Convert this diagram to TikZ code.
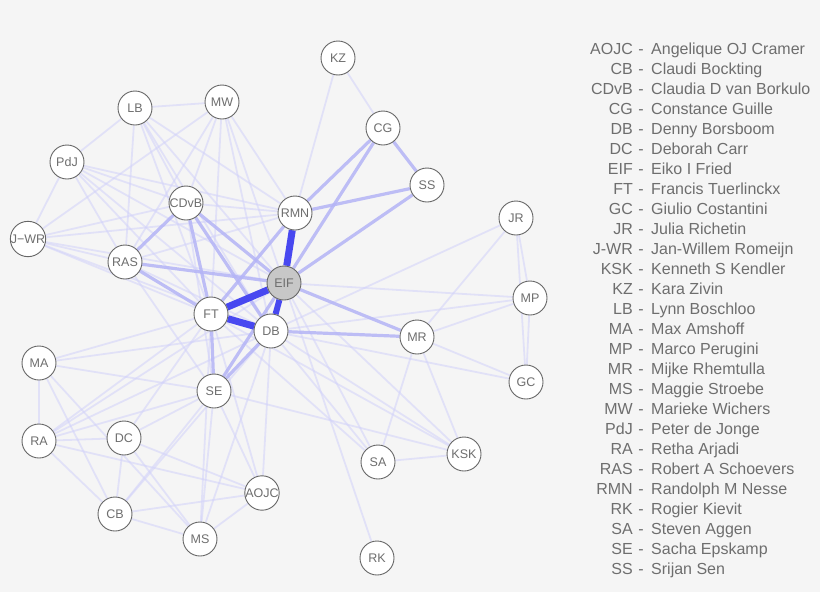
\documentclass[tikz,border=0pt]{standalone}
\usepackage{fontspec}
\setmainfont{Liberation Sans}
\usetikzlibrary{backgrounds}

\definecolor{bgcol}{RGB}{245,245,245}
\definecolor{txtcol}{RGB}{110,110,110}
\definecolor{weakcol}{RGB}{210,210,250}
\definecolor{midcol}{RGB}{180,180,246}
\definecolor{strongcol}{RGB}{72,72,240}

\tikzset{
  person/.style={circle, draw=black!60, line width=0.9pt, fill=white, minimum size=34pt,
    inner sep=0pt, text=txtcol, font=\fontsize{12.5}{13}\selectfont},
  hub/.style={person, fill=black!22},
  weak/.style={draw=weakcol, line width=1.8pt, opacity=0.55},
  mid/.style={draw=midcol, line width=3.2pt, opacity=0.85},
  strong/.style={draw=strongcol, line width=7pt},
  legend/.style={text=txtcol, font=\fontsize{16}{17}\selectfont, inner sep=0pt}
}

\begin{document}
\begin{tikzpicture}[x=1pt, y=-1pt]
  \useasboundingbox (0,0) rectangle (820,592);

  % co-authors
  \foreach \n/\x/\y/\t in {KZ/338/58/KZ, LB/135/108/LB, MW/222/102/MW, CG/383/128/CG,
      PdJ/67/162/PdJ, SS/427/185/SS, CDvB/186/203/CDvB, RMN/295/213/RMN, JR/516/218/JR,
      JWR/28/239/J−WR, RAS/125/262/RAS, MP/530/298/MP, FT/211/314/FT, DB/271/331/DB,
      MR/417/337/MR, MA/39/363/MA, SE/214/391/SE, GC/526/382/GC, RA/39/441/RA,
      DC/124/438/DC, SA/378/462/SA, KSK/464/454/KSK, AOJC/262/493/AOJC, CB/115/514/CB,
      MS/200/539/MS, RK/377/558/RK}
    \node[person] (\n) at (\x,\y) {\t};
  \node[hub] (EIF) at (284,283) {EIF};

  \begin{scope}[on background layer]
    \fill[bgcol] (0,0) rectangle (820,592);

    % weak ties
    \foreach \a/\b in {LB/MW, LB/PdJ, LB/RAS, LB/CDvB, LB/FT, LB/EIF, LB/RMN, LB/DB,
        MW/JWR, MW/CDvB, MW/RAS, MW/FT, MW/EIF, MW/RMN, MW/DB,
        PdJ/JWR, PdJ/CDvB, PdJ/RMN, PdJ/RAS, PdJ/FT, PdJ/EIF, PdJ/DB,
        JWR/CDvB, JWR/RMN, JWR/RAS, JWR/EIF, JWR/FT, JWR/DB,
        RAS/DB, RAS/SE, RAS/RMN, CDvB/RMN, CDvB/SE,
        KZ/RMN, KZ/CG, JR/MR, JR/MP, JR/GC, JR/DB, MP/GC, MP/EIF, MP/DB, MP/MR,
        GC/MR, GC/DB, MR/SA, MR/KSK, SA/KSK, KSK/EIF, KSK/DB, KSK/FT, KSK/SE,
        SA/EIF, SA/DB, SA/FT, RK/EIF,
        MA/RA, MA/FT, MA/SE, MA/DB, MA/CB, MA/MS, RA/DC, RA/FT, RA/SE, RA/DB,
        RA/EIF, RA/CB, RA/AOJC, DC/CB, DC/SE, DC/AOJC, DC/MS, DC/FT,
        CB/SE, CB/DB, CB/AOJC, CB/MS, MS/SE, MS/AOJC, MS/DB, MS/FT,
        AOJC/SE, AOJC/DB, AOJC/FT}
      \path[weak] (\a) -- (\b);

    % medium ties
    \foreach \a/\b in {EIF/CG, EIF/SS, RMN/CG, RMN/SS, CG/SS, EIF/MR, DB/MR,
        FT/SE, DB/SE, EIF/SE, CDvB/FT, CDvB/DB, CDvB/EIF, RAS/CDvB, RAS/EIF,
        RAS/FT, FT/RMN}
      \path[mid] (\a) -- (\b);

    % strong ties
    \path[strong] (EIF) -- (RMN);
    \path[strong] (EIF) -- (FT);
    \path[strong] (FT) -- (DB);
    \path[strong, line width=6pt] (EIF) -- (DB);
  \end{scope}

  % legend
  \foreach \a/\b [count=\i] in {AOJC/Angelique OJ Cramer, CB/Claudi Bockting,
      CDvB/Claudia D van Borkulo, CG/Constance Guille, DB/Denny Borsboom,
      DC/Deborah Carr, EIF/Eiko I Fried, FT/Francis Tuerlinckx, GC/Giulio Costantini,
      JR/Julia Richetin, J-WR/Jan-Willem Romeijn, KSK/Kenneth S Kendler, KZ/Kara Zivin,
      LB/Lynn Boschloo, MA/Max Amshoff, MP/Marco Perugini, MR/Mijke Rhemtulla,
      MS/Maggie Stroebe, MW/Marieke Wichers, PdJ/Peter de Jonge, RA/Retha Arjadi,
      RAS/Robert A Schoevers, RMN/Randolph M Nesse, RK/Rogier Kievit, SA/Steven Aggen,
      SE/Sacha Epskamp, SS/Srijan Sen} {
    \node[legend, anchor=base east] (abbr\i) at (633,{54.8+20*(\i-1)}) {\a};
    \node[legend, anchor=base] (dash\i) at (641,{54.8+20*(\i-1)}) {-};
    \node[legend, anchor=base west] (name\i) at (651,{54.8+20*(\i-1)}) {\b};
  }
\end{tikzpicture}
\end{document}
